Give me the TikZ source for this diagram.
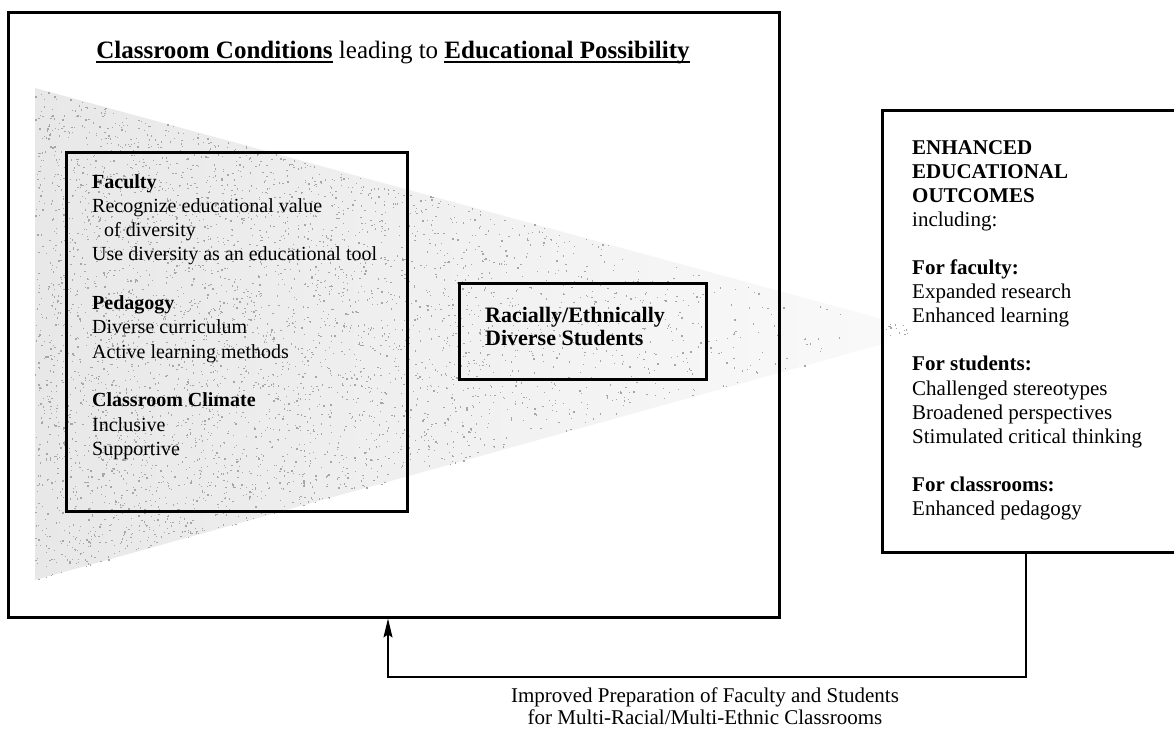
\documentclass[tikz,border=0pt]{standalone}
\usepackage{fontspec}
\setmainfont{Liberation Serif}
\usetikzlibrary{arrows.meta}
\newcommand\myul[1]{\setbox0\hbox{#1}\rlap{\rule[-4.5pt]{\wd0}{2pt}}\box0\relax}
\tikzset{
  box/.style={draw, line width=3pt, inner sep=0pt},
  txt/.style={anchor=base west, inner sep=0pt, font=\fontsize{20}{24}\selectfont},
  rtxt/.style={anchor=base west, inner sep=0pt, font=\fontsize{21}{24}\selectfont},
  mtxt/.style={anchor=base west, inner sep=0pt, font=\fontsize{22}{24}\selectfont\bfseries},
  ctxt/.style={anchor=base, inner sep=0pt, font=\fontsize{21}{24}\selectfont},
  conn/.style={line width=1.4pt, -{Stealth[length=19pt,width=9pt,inset=3pt]}},
  stip/.style={fill=gray!70},
}
\begin{document}
\begin{tikzpicture}[x=1pt,y=-1pt]
\path[use as bounding box] (0,0) rectangle (1174,729);
\clip (0,0) rectangle (1174,729);
\fill[white] (0,0) rectangle (1174,729);
% stippled cone
\shade[left color=gray!18, right color=gray!4] (35,88) -- (915,328) -- (915,335) -- (35,580) -- cycle;
\pgfmathsetseed{7}
\foreach \i in {1,...,4200}{%
  \pgfmathsetmacro{\tt}{1-pow(0.001+0.999*rnd,0.36)}%
  \pgfmathsetmacro{\ss}{rnd}%
  \pgfmathsetmacro{\xx}{35+880*\tt}%
  \pgfmathsetmacro{\yy}{88+240*\tt+\ss*(492-485*\tt)}%
  \fill[stip] (\xx,\yy) rectangle ++(1.3,1.3);
}
% boxes
\node[box, minimum width=771pt, minimum height=605pt] (outer) at (393.5,314.5) {};
\node[box, minimum width=341pt, minimum height=359pt] (lbox) at (236.5,331.5) {};
\node[box, minimum width=247pt, minimum height=96pt] (mbox) at (582.5,331) {};
\node[box, fill=white, minimum width=308pt, minimum height=442pt] (rbox) at (1036,331) {};
% dots of the cone tip inside the right box
\foreach \i in {1,...,14}{%
  \pgfmathsetmacro{\xx}{884+24*rnd}%
  \pgfmathsetmacro{\yy}{322+14*rnd}%
  \fill[stip] (\xx,\yy) rectangle ++(1.3,1.3);
}
% title
\node[anchor=base, inner sep=0pt, font=\fontsize{25}{30}\selectfont] (title) at (393,58)
  {\myul{\textbf{Classroom Conditions}} leading to \myul{\textbf{Educational Possibility}}};
% left box text
\foreach \n/\y/\t in {1/188/{\textbf{Faculty}}, 2/212.3/{Recognize educational value},
  3/236.6/{\hspace{12pt}of diversity}, 4/260.9/{Use diversity as an educational tool},
  5/309.5/{\textbf{Pedagogy}}, 6/333.8/{Diverse curriculum}, 7/358.1/{Active learning methods},
  8/406.7/{\textbf{Classroom Climate}}, 9/431/{Inclusive}, 10/455.3/{Supportive}}
  \node[txt] (L\n) at (92,\y) {\t};
% middle box text
\node[mtxt] (M1) at (485,322) {Racially/Ethnically};
\node[mtxt] (M2) at (485,345) {Diverse Students};
% right box text
\foreach \n/\y/\t in {1/154/{\textbf{ENHANCED}}, 2/178.1/{\textbf{EDUCATIONAL}},
  3/202.2/{\textbf{OUTCOMES}}, 4/226.3/{including:},
  5/274.5/{\textbf{For faculty:}}, 6/298.6/{Expanded research}, 7/322.7/{Enhanced learning},
  8/370.9/{\textbf{For students:}}, 9/395/{Challenged stereotypes},
  10/419.1/{Broadened perspectives}, 11/443.2/{Stimulated critical thinking},
  12/491.4/{\textbf{For classrooms:}}, 13/515.5/{Enhanced pedagogy}}
  \node[rtxt] (R\n) at (912,\y) {\t};
% feedback connector
\coordinate (c1) at (1026,677);
\coordinate (c2) at (388,677);
\draw[conn] (rbox.south -| c1) -- (c1) -- (c2) -- (outer.south -| c2);
% bottom label
\node[ctxt] (B1) at (705,702) {Improved Preparation of Faculty and Students};
\node[ctxt] (B2) at (705,724) {for Multi-Racial/Multi-Ethnic Classrooms};
\end{tikzpicture}
\end{document}
